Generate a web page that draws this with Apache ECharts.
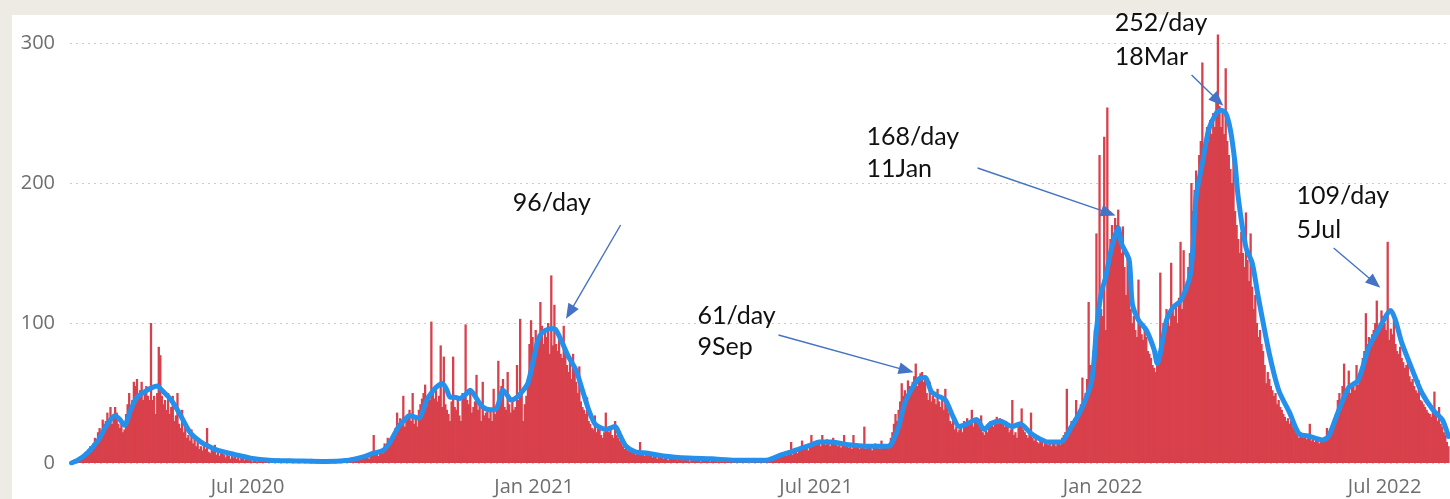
<!DOCTYPE html>
<html>
<head>
<meta charset="utf-8">
<script src="https://cdn.jsdelivr.net/npm/echarts@6/dist/echarts.min.js"></script>
<style>
  html, body { margin: 0; padding: 0; background: #eeebe5; }
  .panel { position: absolute; left: 12px; top: 15px; right: 0; bottom: 0; background: #fff; }
  #chart { position: absolute; left: 0; top: 0; width: 1450px; height: 499px; }
</style>
</head>
<body>
<div class="panel"></div>
<div id="chart"></div>
<script>
// daily counts, one value per day from the start date
const start2020 = '2020-03-10'
const cases2020 = [
  0, 1, 1, 2, 3, 2, 4, 5, 6, 8, 7, 10, 12, 9, 14, 18, 15, 22, 25, 20, 31, 28, // Mar 10-31
  30, 36, 30, 40, 28, 35, 40, 36, 28, 25, 30, 22, 24, 35, 42, 50, 38, 45, 58, 55, 60, 48, 52, 58, 45, 50, 55, 48, 45, 100, // Apr
  45, 48, 35, 50, 83, 77, 48, 42, 45, 38, 50, 35, 40, 48, 30, 34, 50, 28, 25, 38, 22, 26, 18, 20, 16, 24, 14, 17, 12, 15, 10, // May
  12, 9, 14, 10, 25, 8, 7, 11, 9, 13, 6, 8, 5, 7, 9, 6, 4, 7, 5, 3, 6, 4, 5, 3, 4, 2, 5, 3, 2, 4, // Jun
  3, 2, 4, 1, 2, 3, 1, 2, 4, 2, 1, 3, 2, 1, 2, 3, 1, 0, 2, 1, 3, 1, 2, 0, 1, 2, 1, 3, 1, 0, 2, // Jul
  1, 0, 2, 1, 1, 0, 2, 1, 0, 1, 3, 1, 0, 1, 2, 0, 1, 1, 0, 2, 1, 0, 1, 2, 0, 1, 1, 0, 2, 1, 1, // Aug
  1, 2, 1, 3, 2, 1, 2, 4, 3, 2, 5, 4, 3, 6, 4, 5, 3, 7, 5, 20, 6, 8, 5, 9, 10, 7, 14, 12, 18, 16, // Sep
  18, 20, 22, 25, 36, 28, 32, 30, 48, 26, 33, 35, 38, 30, 50, 28, 34, 26, 38, 42, 46, 50, 56, 40, 48, 45, 101, 50, 46, 52, 44, // Oct
  48, 84, 40, 76, 42, 38, 35, 30, 44, 76, 40, 38, 45, 34, 30, 50, 48, 99, 45, 42, 50, 36, 40, 44, 63, 38, 42, 30, 58, 34, // Nov
  36, 40, 32, 38, 30, 53, 35, 42, 73, 48, 55, 60, 40, 38, 65, 42, 36, 44, 38, 40, 70, 45, 103, 50, 30, 42, 48, 60, 85, 102, 90 // Dec
]
const start2021 = '2021-01-01'
const cases2021 = [
  80, 95, 88, 92, 115, 98, 85, 96, 90, 100, 78, 134, 84, 113, 85, 80, 90, 78, 75, 98, 82, 70, 65, 72, 60, 78, 66, 58, 50, 69, 44, // Jan
  40, 38, 35, 47, 30, 28, 25, 24, 34, 22, 26, 24, 20, 18, 22, 36, 24, 22, 26, 20, 18, 30, 20, 18, 16, 14, 12, 10, // Feb
  12, 9, 11, 8, 10, 7, 6, 9, 7, 15, 6, 8, 5, 7, 6, 5, 7, 4, 6, 5, 3, 6, 4, 5, 3, 4, 5, 2, 4, 3, 5, // Mar
  3, 4, 2, 3, 5, 2, 3, 4, 2, 3, 1, 3, 4, 2, 3, 2, 3, 1, 2, 4, 2, 3, 2, 1, 3, 2, 2, 3, 1, 2, // Apr
  2, 1, 3, 2, 1, 2, 2, 1, 3, 1, 2, 1, 2, 3, 1, 2, 1, 2, 0, 2, 1, 3, 1, 2, 1, 2, 3, 2, 1, 3, 2, // May
  2, 3, 2, 4, 3, 5, 4, 6, 5, 7, 6, 5, 8, 7, 15, 6, 9, 8, 7, 10, 9, 16, 11, 10, 12, 9, 11, 20, 12, 13, // Jun
  14, 13, 16, 12, 20, 15, 13, 17, 14, 12, 16, 18, 13, 15, 12, 14, 11, 13, 20, 12, 14, 11, 13, 10, 20, 12, 11, 13, 10, 12, 11, // Jul
  26, 10, 12, 11, 13, 9, 12, 14, 11, 12, 10, 16, 12, 11, 13, 12, 14, 18, 22, 28, 35, 30, 38, 44, 57, 48, 52, 46, 59, 55, 50, // Aug
  58, 62, 71, 55, 60, 64, 65, 58, 62, 50, 45, 58, 44, 48, 46, 42, 53, 44, 40, 46, 38, 53, 42, 36, 30, 28, 32, 24, 26, 22, // Sep
  24, 28, 22, 30, 26, 32, 28, 30, 38, 26, 32, 30, 28, 26, 34, 22, 20, 24, 22, 26, 30, 28, 26, 30, 33, 28, 32, 30, 28, 26, 30, // Oct
  26, 22, 24, 45, 20, 22, 18, 26, 28, 39, 24, 22, 20, 18, 22, 36, 18, 16, 20, 15, 14, 18, 16, 12, 15, 14, 13, 16, 12, 14, // Nov
  14, 12, 16, 15, 13, 18, 20, 22, 53, 24, 26, 30, 28, 32, 45, 34, 38, 42, 61, 44, 50, 60, 115, 70, 62, 80, 95, 164, 100, 220, 110 // Dec
]
const start2022 = '2022-01-01'
const cases2022 = [
  105, 233, 95, 254, 150, 160, 170, 155, 175, 170, 181, 165, 150, 169, 140, 120, 150, 135, 110, 100, 105, 95, 90, 131, 100, 92, 88, 95, 90, 80, 78, // Jan
  75, 70, 68, 65, 72, 80, 136, 90, 100, 95, 110, 105, 98, 143, 110, 105, 112, 100, 118, 158, 110, 152, 120, 130, 140, 150, 200, 180, // Feb
  195, 209, 200, 220, 230, 286, 215, 225, 240, 230, 245, 235, 250, 240, 260, 306, 255, 240, 250, 235, 282, 230, 220, 210, 200, 225, 180, 170, 160, 150, 165, // Mar
  150, 140, 179, 145, 130, 164, 126, 110, 120, 100, 90, 95, 85, 80, 70, 57, 65, 60, 55, 52, 48, 50, 42, 45, 40, 38, 35, 33, 30, 32, // Apr
  28, 30, 26, 24, 22, 20, 18, 22, 20, 18, 21, 17, 19, 28, 16, 18, 15, 17, 16, 14, 17, 15, 18, 16, 25, 20, 22, 24, 26, 28, 33, // May
  45, 50, 42, 55, 71, 48, 52, 66, 50, 55, 58, 52, 70, 56, 60, 65, 75, 80, 107, 85, 90, 88, 92, 95, 100, 116, 98, 100, 109, 105, // Jun
  100, 95, 158, 88, 96, 92, 102, 85, 80, 78, 83, 75, 72, 68, 70, 74, 62, 58, 60, 55, 52, 50, 59, 45, 44, 42, 40, 38, 36, 35, 33, // Jul
  38, 51, 34, 30, 40, 28, 26, 22, 20, 15, 12 // Aug 1-11
]

// 7-day average, read at points along the blue line
const avgDates = [
  '2020-03-10', '2020-03-14', '2020-03-20', '2020-03-27', '2020-04-01', '2020-04-07', '2020-04-10', '2020-04-13',
  '2020-04-17', '2020-04-21', '2020-04-26', '2020-05-01', '2020-05-04', '2020-05-07', '2020-05-13', '2020-05-19',
  '2020-05-25', '2020-06-01', '2020-06-06', '2020-06-12', '2020-06-23', '2020-07-03', '2020-07-15', '2020-08-01',
  '2020-08-20', '2020-09-04', '2020-09-12', '2020-09-20', '2020-09-26', '2020-09-30', '2020-10-03', '2020-10-06',
  '2020-10-10', '2020-10-13', '2020-10-16', '2020-10-19', '2020-10-24', '2020-10-27', '2020-10-30', '2020-11-03',
  '2020-11-06', '2020-11-08', '2020-11-11', '2020-11-14', '2020-11-18', '2020-11-21', '2020-11-25', '2020-11-29',
  '2020-12-04', '2020-12-08', '2020-12-12', '2020-12-15', '2020-12-17', '2020-12-21', '2020-12-25', '2020-12-28',
  '2021-01-01', '2021-01-03', '2021-01-06', '2021-01-12', '2021-01-15', '2021-01-19', '2021-01-23', '2021-01-28',
  '2021-02-01', '2021-02-05', '2021-02-09', '2021-02-13', '2021-02-16', '2021-02-22', '2021-02-25', '2021-03-01',
  '2021-03-07', '2021-03-15', '2021-03-25', '2021-04-10', '2021-04-25', '2021-05-10', '2021-05-30', '2021-06-09',
  '2021-06-15', '2021-06-20', '2021-06-28', '2021-07-03', '2021-07-11', '2021-07-22', '2021-08-02', '2021-08-15',
  '2021-08-18', '2021-08-23', '2021-08-27', '2021-09-01', '2021-09-05', '2021-09-09', '2021-09-13', '2021-09-17',
  '2021-09-22', '2021-09-27', '2021-10-01', '2021-10-06', '2021-10-12', '2021-10-17', '2021-10-21', '2021-10-27',
  '2021-11-04', '2021-11-09', '2021-11-16', '2021-11-22', '2021-11-27', '2021-12-05', '2021-12-12', '2021-12-19',
  '2021-12-25', '2021-12-28', '2021-12-31', '2022-01-03', '2022-01-06', '2022-01-11', '2022-01-13', '2022-01-18',
  '2022-01-20', '2022-01-24', '2022-01-29', '2022-02-03', '2022-02-05', '2022-02-11', '2022-02-15', '2022-02-20',
  '2022-02-26', '2022-02-28', '2022-03-02', '2022-03-06', '2022-03-10', '2022-03-15', '2022-03-18', '2022-03-21',
  '2022-03-24', '2022-03-27', '2022-03-29', '2022-04-03', '2022-04-07', '2022-04-11', '2022-04-18', '2022-04-24',
  '2022-05-01', '2022-05-07', '2022-05-14', '2022-05-22', '2022-05-26', '2022-06-01', '2022-06-08', '2022-06-14',
  '2022-06-21', '2022-06-27', '2022-07-05', '2022-07-08', '2022-07-12', '2022-07-19', '2022-07-25', '2022-08-01',
  '2022-08-07', '2022-08-11'
]
const avgValues = [
  0, 2, 7, 16, 26, 34, 31, 27,
  38, 47, 51, 54, 55, 52, 45, 34,
  22, 15, 12, 9, 6, 3.5, 2, 1.5,
  1, 2, 4, 7, 9, 14, 20, 26,
  31, 34, 33, 32, 45, 50, 54, 57,
  52, 47, 47, 46, 49, 52, 46, 40,
  38, 39, 52, 48, 45, 47, 52, 57,
  76, 86, 93, 96, 95, 86, 76, 66,
  52, 38, 28, 25, 24, 26, 20, 12,
  8, 7, 5, 3.5, 3, 2, 2, 6,
  8, 10, 13, 15, 15, 13, 12, 12,
  13, 26, 43, 54, 60, 61, 51, 48,
  45, 33, 26, 28, 31, 24, 28, 30,
  26, 28, 21, 17, 15, 15, 26, 40,
  59, 95, 121, 133, 150, 168, 157, 145,
  114, 102, 95, 81, 71, 102, 111, 116,
  133, 154, 190, 214, 238, 250, 252, 250,
  238, 214, 190, 154, 143, 118, 78, 52,
  36, 21, 19, 16.5, 19, 36, 54, 59,
  83, 95, 109, 102, 86, 66, 50, 38,
  31, 19
]

const tickDates = ['2020-07-01', '2021-01-01', '2021-07-01', '2022-01-01', '2022-07-01']
const tickLabels = ['Jul 2020', 'Jan 2021', 'Jul 2021', 'Jan 2022', 'Jul 2022']

// callouts: [text, date, value] of the text's left edge / middle
const notes = [
  ['96/day', '2020-12-18T07:00', 186],
  ['61/day', '2021-04-15T22:00', 105.4],
  ['9Sep', '2021-04-15T22:00', 83],
  ['168/day', '2021-08-02T10:00', 233],
  ['11Jan', '2021-08-02T10:00', 210],
  ['252/day', '2022-01-08T17:00', 314.6],
  ['18Mar', '2022-01-08T17:00', 290.4],
  ['109/day', '2022-05-05T12:00', 190.7],
  ['5Jul', '2022-05-05T12:00', 166.8]
]
// arrows: from [date, value] to [date, value]
const arrows = [
  [['2021-02-25T12:00', 170], ['2021-01-23T21:00', 107.6]],
  [['2021-06-06T21:00', 91.4], ['2021-08-27T22:00', 66.2]],
  [['2021-10-12T17:00', 210.7], ['2022-01-04T17:00', 178.6]],
  [['2022-02-27T02:00', 277.1], ['2022-03-16T00:00', 258.9]],
  [['2022-05-29T07:00', 153.6], ['2022-06-24T14:00', 128.7]]
]

const DAY = 86400000
const ts = s => Date.parse(s.length > 10 ? s + ':00Z' : s + 'T00:00:00Z')

function daily(start, values) {
  const t0 = ts(start)
  return values.map((v, i) => [t0 + i * DAY, v])
}

const bars = [].concat(daily(start2020, cases2020), daily(start2021, cases2021), daily(start2022, cases2022))
const avgLine = avgDates.map((d, i) => [ts(d), avgValues[i]])
const tickTimes = tickDates.map(ts)

const chart = echarts.init(document.getElementById('chart'))

const option = {
  animation: false,
  grid: { left: 70, right: 0, top: 43, bottom: 36 },
  xAxis: {
    // timestamps on a plain value axis so the labels can sit on exact dates
    type: 'value',
    min: ts('2020-03-09'),
    max: ts('2022-08-12'),
    axisLine: { show: false },
    axisTick: { show: false },
    splitLine: { show: false },
    axisLabel: {
      customValues: tickTimes,
      formatter: v => tickLabels[tickTimes.indexOf(v)] || '',
      color: '#6e6e6e',
      fontFamily: 'Open Sans',
      fontSize: 20,
      margin: 14
    }
  },
  yAxis: {
    type: 'value',
    min: 0,
    max: 300,
    interval: 100,
    axisLine: { show: false },
    axisTick: { show: false },
    axisLabel: {
      color: '#6e6e6e',
      fontFamily: 'Open Sans',
      fontSize: 20,
      margin: 15
    },
    splitLine: {
      lineStyle: { color: '#cccccc', type: [2, 4], width: 1 }
    }
  },
  series: [
    {
      type: 'bar',
      data: bars,
      barWidth: 2.3,
      clip: false,
      itemStyle: { color: '#d8404b' }
    },
    {
      type: 'line',
      data: avgLine,
      smooth: 0.25,
      showSymbol: false,
      lineStyle: { color: '#2590ec', width: 5, cap: 'round', join: 'round' },
      markLine: {
        silent: true,
        symbol: ['none', 'triangle'],
        symbolSize: [12, 15],
        label: { show: false },
        lineStyle: { color: '#4472c4', width: 1.4, type: 'solid' },
        data: arrows.map(a => [
          { coord: [ts(a[0][0]), a[0][1]] },
          { coord: [ts(a[1][0]), a[1][1]] }
        ])
      }
    }
  ]
}

chart.setOption(option)

chart.setOption({
  graphic: notes.map(n => {
    const p = chart.convertToPixel({ gridIndex: 0 }, [ts(n[1]), n[2]])
    return {
      type: 'text',
      x: p[0],
      y: p[1],
      z: 100,
      style: {
        text: n[0],
        fill: '#111',
        font: '25px Lato',
        textAlign: 'left',
        textVerticalAlign: 'middle'
      }
    }
  })
})
</script>
</body>
</html>
